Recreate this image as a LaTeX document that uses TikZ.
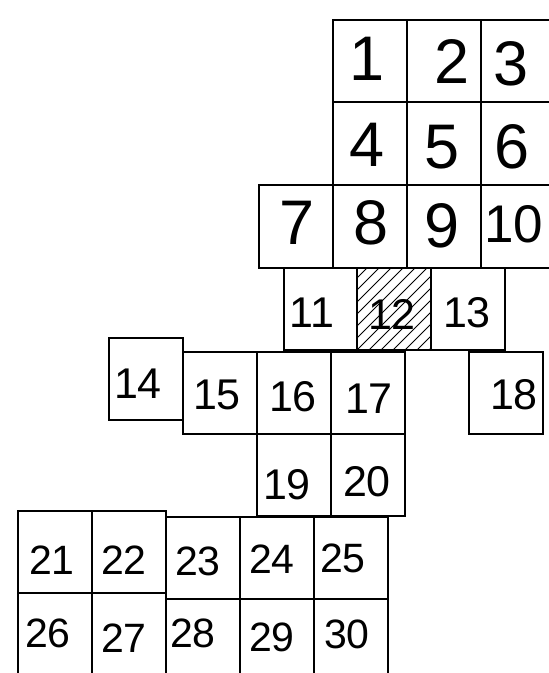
\documentclass[tikz,border=0pt]{standalone}
\usepackage{fontspec}
\setmainfont{Liberation Sans}
\begin{document}
\begin{tikzpicture}[x=1pt,y=-1pt,
  cellline/.style={draw=black,line width=1.5pt},
  hatchline/.style={draw=black,line width=0.8pt},
  big/.style={inner sep=0pt,font=\fontsize{63}{63}\selectfont},
  mid/.style={inner sep=0pt,font=\fontsize{53}{53}\selectfont},
  small/.style={inner sep=0pt,font=\fontsize{43}{43}\selectfont},
  tiny/.style={inner sep=0pt,font=\fontsize{41}{41}\selectfont}]
\useasboundingbox (0,0) rectangle (549,673);
\clip (0,0) rectangle (549,673);
\fill[white] (0,0) rectangle (549,673);
% hatching of cell 12
\begin{scope}
\clip (357,268) rectangle (431,350);
\foreach \i in {-96,-84,...,84} {
  \draw[hatchline] (357+\i,350) -- (357+\i+82,268);
}
\end{scope}
% cells
\foreach \a/\b/\c/\d in {
  333/20/407/102, 407/20/481/102, 481/20/560/102,
  333/102/407/185, 407/102/481/185, 481/102/560/185,
  259/185/333/268, 333/185/407/268, 407/185/481/268, 481/185/560/268,
  284/268/357/350, 357/268/431/350, 431/268/505/350,
  109/338/183/420, 183/352/257/434, 257/352/331/434, 331/352/405/434, 469/352/543/434,
  257/434/331/516, 331/434/405/516,
  18/511/92/593, 92/511/166/593, 166/517/240/599, 240/517/314/599, 314/517/388/599,
  18/593/92/690, 92/593/166/690, 166/599/240/690, 240/599/314/690, 314/599/388/690}
  \draw[cellline] (\a,\b) rectangle (\c,\d);
% labels
\node[big] (t1) at (367,59) {1};
\node[big] (t2) at (452,62) {2};
\node[big] (t3) at (511,64) {3};
\node[big] (t4) at (367,145) {4};
\node[big] (t5) at (442,147) {5};
\node[big] (t6) at (512,147) {6};
\node[big] (t7) at (297,223) {7};
\node[big] (t8) at (371,223) {8};
\node[big] (t9) at (442,226) {9};
\node[mid] (t10) at (514,224) {10};
\node[small] (t11) at (312,313) {11};
\node[small] (t12) at (392,314) {12};
\node[small] (t13) at (467,313) {13};
\node[small] (t14) at (138,384) {14};
\node[small] (t15) at (217,395) {15};
\node[small] (t16) at (293,397) {16};
\node[small] (t17) at (369,399) {17};
\node[small] (t18) at (514,395) {18};
\node[small] (t19) at (287,485) {19};
\node[small] (t20) at (367,482) {20};
\node[tiny] (t21) at (52,560) {21};
\node[tiny] (t22) at (124,560) {22};
\node[tiny] (t23) at (198,561) {23};
\node[tiny] (t24) at (272,559) {24};
\node[tiny] (t25) at (343,558) {25};
\node[tiny] (t26) at (48,633) {26};
\node[tiny] (t27) at (124,638) {27};
\node[tiny] (t28) at (193,633) {28};
\node[tiny] (t29) at (272,637) {29};
\node[tiny] (t30) at (347,634) {30};
\end{tikzpicture}
\end{document}
